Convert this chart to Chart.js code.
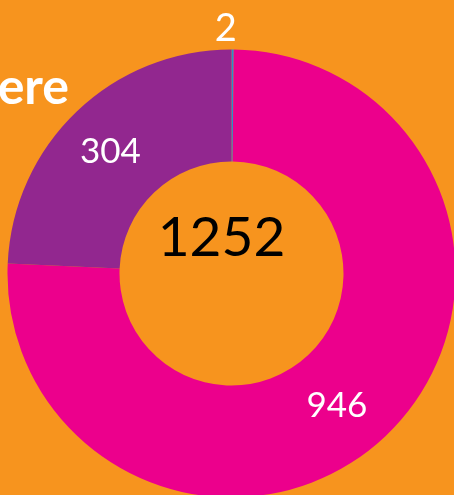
<!DOCTYPE html>
<html>
<head>
<meta charset="utf-8">
<script src="https://cdn.jsdelivr.net/npm/chart.js@4.4.0/dist/chart.umd.min.js"></script>
<style>
    html, body {
        margin: 0;
        padding: 0;
        width: 454px;
        height: 495px;
        overflow: hidden;
        background: #F7941E;
        font-family: Lato, "DejaVu Sans", sans-serif;
    }
    .chart-box {
        position: absolute;
        left: 0;
        top: 0;
        width: 460px;
        height: 500px;
    }
    .side-title {
        position: absolute;
        right: 385px;
        top: 55px;
        color: #fff;
        font-weight: bold;
        font-size: 50px;
        white-space: nowrap;
    }
</style>
</head>
<body>
<div class="side-title">ere</div>
<div class="chart-box"><canvas id="donut"></canvas></div>
<script>
// data, clockwise from the top
const labels = ['Blue', 'Pink', 'Purple'];
const values = [2, 946, 304];
const colors = ['#2B8FCB', '#EC008C', '#92278F'];

// small nudges for each value label (px)
const labelNudge = [[-7, 3], [-10, 10], [-5, 0]];

const valueLabels = {
    id: 'valueLabels',
    afterDatasetsDraw(chart) {
        const ctx = chart.ctx;
        const meta = chart.getDatasetMeta(0);
        const total = values.reduce((a, b) => a + b, 0);
        ctx.save();
        ctx.textAlign = 'center';
        ctx.textBaseline = 'middle';
        meta.data.forEach((arc, i) => {
            const p = arc.getProps(['x', 'y', 'startAngle', 'endAngle', 'innerRadius', 'outerRadius'], true);
            const mid = (p.startAngle + p.endAngle) / 2;
            // tiny slices get their label outside the ring
            const small = values[i] / total < 0.02;
            const r = small ? p.outerRadius + 24 : (p.innerRadius + p.outerRadius) / 2;
            const x = p.x + Math.cos(mid) * r + labelNudge[i][0];
            const y = p.y + Math.sin(mid) * r + labelNudge[i][1];
            ctx.fillStyle = '#fff';
            ctx.font = (small ? '38px' : '35px') + ' Lato, "DejaVu Sans", sans-serif';
            ctx.fillText(values[i], x, y);
        });
        // total in the hole
        const c = meta.data[0];
        ctx.fillStyle = '#000';
        ctx.font = '55px Lato, "DejaVu Sans", sans-serif';
        ctx.fillText(total, c.x - 10, c.y - 35);
        ctx.restore();
    }
};

document.addEventListener('DOMContentLoaded', function() {
    const ctx = document.getElementById('donut').getContext('2d');
    new Chart(ctx, {
        type: 'doughnut',
        data: {
            labels: labels,
            datasets: [{
                data: values,
                backgroundColor: colors,
                borderWidth: 0
            }]
        },
        options: {
            responsive: true,
            maintainAspectRatio: false,
            animation: false,
            cutout: '50%',
            layout: {
                padding: { left: 7.5, right: 4.5, top: 49.5, bottom: 2.5 }
            },
            plugins: {
                legend: { display: false },
                tooltip: { enabled: false }
            }
        },
        plugins: [valueLabels]
    });
});
</script>
</body>
</html>
